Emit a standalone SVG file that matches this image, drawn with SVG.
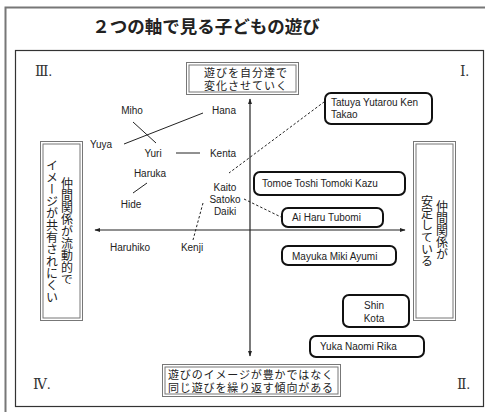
<svg xmlns="http://www.w3.org/2000/svg" width="485" height="412" viewBox="0 0 485 412">
<style>
.jp{font-family:"Noto Sans CJK JP","Noto Sans CJK SC",sans-serif;fill:#222}
.nm{font-family:"Liberation Sans",Arial,sans-serif;font-size:10px;fill:#222}
.num{font-family:"Liberation Serif","DejaVu Serif",serif;font-size:14px;fill:#333}
.dbo{fill:#fff;stroke:#777;stroke-width:1}
.dbi{fill:none;stroke:#777;stroke-width:1}
.rb{fill:#fff;stroke:#111;stroke-width:2}
.ln{stroke:#222;stroke-width:1;fill:none}
.ds{stroke:#222;stroke-width:1;fill:none;stroke-dasharray:2.5,2}
.ax{stroke:#222;stroke-width:1.2;fill:none}
.vt{writing-mode:vertical-rl;font-size:12px}
.bx{font-size:11px}
</style>
<defs>
<marker id="ah" viewBox="0 0 10 10" refX="9" refY="5" markerWidth="6" markerHeight="6" orient="auto-start-reverse" markerUnits="userSpaceOnUse">
<path d="M0,1.5 L10,5 L0,8.5 Z" fill="#222"/>
</marker>
</defs>
<rect width="485" height="412" fill="#fff"/>
<rect x="5.5" y="7.5" width="500" height="420" fill="none" stroke="#777" stroke-width="2"/>
<text class="jp" x="206" y="33" font-size="17.5" font-weight="bold" text-anchor="middle">２つの軸で見る子どもの遊び</text>
<rect x="15.5" y="50.5" width="468" height="356" fill="none" stroke="#333" stroke-width="1.2"/>
<text class="num" x="35" y="76">Ⅲ.</text>
<text class="num" x="460" y="76">Ⅰ.</text>
<text class="num" x="33" y="389">Ⅳ.</text>
<text class="num" x="457" y="389">Ⅱ.</text>
<g id="connectors">
<line class="ax" x1="250" y1="356" x2="250" y2="99" marker-start="url(#ah)" marker-end="url(#ah)"/>
<line class="ax" x1="405" y1="230" x2="95" y2="230" marker-start="url(#ah)" marker-end="url(#ah)"/>
<line class="ln" x1="124" y1="144" x2="203" y2="113"/>
<line class="ln" x1="133" y1="122" x2="156" y2="143"/>
<line class="ln" x1="176" y1="153" x2="200" y2="153" stroke-width="1.3"/>
<line class="ln" x1="147" y1="183" x2="133" y2="193"/>
<line class="ds" x1="328" y1="99" x2="229" y2="173"/>
<line class="ds" x1="203" y1="203" x2="193" y2="240"/>
<line class="ds" x1="244" y1="199" x2="283" y2="218"/>
</g>
<g id="top-box">
<rect class="dbo" x="186.5" y="62.5" width="112" height="32"/>
<rect class="dbi" x="189" y="65" width="107" height="27"/>
<text class="jp bx" x="204" y="76.5" textLength="83" lengthAdjust="spacing">遊びを自分達で</text>
<text class="jp bx" x="204" y="89.5" textLength="83" lengthAdjust="spacing">変化させていく</text>
</g>
<g id="bottom-box">
<rect class="dbo" x="162.5" y="364.5" width="178" height="32"/>
<rect class="dbi" x="165" y="367" width="173" height="27"/>
<text class="jp bx" x="168" y="378.5" textLength="165" lengthAdjust="spacing">遊びのイメージが豊かではなく</text>
<text class="jp bx" x="168" y="391.5" textLength="165" lengthAdjust="spacing">同じ遊びを繰り返す傾向がある</text>
</g>
<g id="left-box">
<rect class="dbo" x="40.5" y="141.5" width="42" height="179"/>
<rect class="dbi" x="43" y="144" width="37" height="174"/>
<text class="jp vt" x="67" y="177">仲間関係が流動的で</text>
<text class="jp vt" x="52" y="159">イメージが共有されにくい</text>
</g>
<g id="right-box">
<rect class="dbo" x="413.5" y="141.5" width="42" height="179"/>
<rect class="dbi" x="416" y="144" width="37" height="174"/>
<text class="jp vt" x="442" y="200">仲間関係が</text>
<text class="jp vt" x="427" y="195">安定している</text>
</g>
<g id="n-miho"><text class="nm" x="132" y="114" text-anchor="middle">Miho</text></g>
<g id="n-hana"><text class="nm" x="224" y="114" text-anchor="middle">Hana</text></g>
<g id="n-yuya"><text class="nm" x="101" y="148" text-anchor="middle">Yuya</text></g>
<g id="n-yuri"><text class="nm" x="153" y="157" text-anchor="middle">Yuri</text></g>
<g id="n-kenta"><text class="nm" x="223" y="157" text-anchor="middle">Kenta</text></g>
<g id="n-haruka"><text class="nm" x="150" y="177" text-anchor="middle">Haruka</text></g>
<g id="n-hide"><text class="nm" x="131" y="208" text-anchor="middle">Hide</text></g>
<g id="n-kaito"><text class="nm" x="225" y="191" text-anchor="middle">Kaito</text><text class="nm" x="225" y="203" text-anchor="middle">Satoko</text><text class="nm" x="225" y="215" text-anchor="middle">Daiki</text></g>
<g id="n-haruhiko"><text class="nm" x="130" y="251" text-anchor="middle">Haruhiko</text></g>
<g id="n-kenji"><text class="nm" x="192" y="251" text-anchor="middle">Kenji</text></g>
<g id="b-tatuya"><rect class="rb" x="325" y="93" width="107" height="31" rx="6"/><text class="nm" x="331" y="106">Tatuya Yutarou Ken</text><text class="nm" x="331" y="118">Takao</text></g>
<g id="b-tomoe"><rect class="rb" x="254" y="172" width="151" height="23" rx="6"/><text class="nm" x="262" y="187">Tomoe Toshi Tomoki Kazu</text></g>
<g id="b-ai"><rect class="rb" x="282" y="208" width="101" height="19" rx="6"/><text class="nm" x="292" y="221">Ai Haru Tubomi</text></g>
<g id="b-mayuka"><rect class="rb" x="282" y="246" width="114" height="19" rx="6"/><text class="nm" x="292" y="260">Mayuka Miki Ayumi</text></g>
<g id="b-shin"><rect class="rb" x="343" y="295" width="66" height="32" rx="6"/><text class="nm" x="374" y="309" text-anchor="middle">Shin</text><text class="nm" x="374" y="322" text-anchor="middle">Kota</text></g>
<g id="b-yuka"><rect class="rb" x="310" y="336" width="114" height="21" rx="6"/><text class="nm" x="320" y="350">Yuka Naomi Rika</text></g>
</svg>
